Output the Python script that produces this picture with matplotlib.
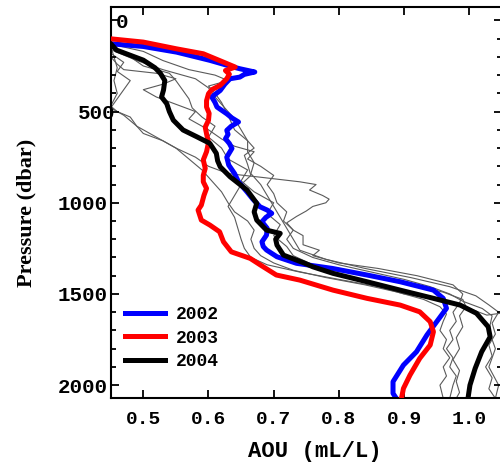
import numpy as np
import matplotlib.pyplot as plt
from matplotlib.ticker import MultipleLocator
from matplotlib.transforms import ScaledTranslation

# AOU profiles (pressure in dbar, AOU in mL/L)
p_2002 = [98, 128, 143, 174, 219, 256, 265, 283, 296, 311, 320, 350, 384, 420, 450, 475, 512,
          535, 557, 580, 603, 625, 649, 675, 702, 750, 793, 840, 885, 940, 980, 1022, 1040,
          1058, 1080, 1104, 1140, 1177, 1214, 1240, 1259, 1296, 1332, 1360, 1396, 1433, 1479,
          1524, 1579, 1652, 1725, 1817, 1890, 1981, 2045, 2072]
v_2002 = [0.44, 0.45, 0.50, 0.551, 0.602, 0.638, 0.648, 0.671, 0.655, 0.648, 0.633, 0.625,
          0.618, 0.605, 0.610, 0.613, 0.628, 0.636, 0.646, 0.635, 0.628, 0.630, 0.626, 0.632,
          0.636, 0.628, 0.631, 0.640, 0.646, 0.659, 0.668, 0.679, 0.690, 0.697, 0.688, 0.682,
          0.690, 0.689, 0.682, 0.684, 0.689, 0.705, 0.735, 0.79, 0.843, 0.894, 0.945, 0.960,
          0.965, 0.950, 0.935, 0.919, 0.899, 0.883, 0.883, 0.888]

p_2003 = [95, 101, 119, 156, 183, 229, 256, 275, 295, 320, 356, 380, 402, 440, 475, 510, 548,
          585, 622, 670, 720, 765, 811, 850, 885, 921, 960, 1013, 1040, 1095, 1122, 1159,
          1214, 1269, 1305, 1342, 1396, 1424, 1479, 1524, 1561, 1598, 1652, 1707, 1780, 1853,
          1945, 2018, 2072]
v_2003 = [0.44, 0.45, 0.50, 0.551, 0.592, 0.623, 0.641, 0.626, 0.632, 0.628, 0.618, 0.605,
          0.600, 0.597, 0.597, 0.601, 0.600, 0.595, 0.597, 0.600, 0.597, 0.592, 0.595, 0.592,
          0.592, 0.597, 0.593, 0.589, 0.584, 0.589, 0.602, 0.617, 0.623, 0.635, 0.664, 0.680,
          0.704, 0.740, 0.791, 0.843, 0.894, 0.924, 0.940, 0.945, 0.940, 0.924, 0.909, 0.899,
          0.896]

p_2004 = [120, 128, 163, 218, 260, 289, 330, 382, 420, 457, 500, 547, 601, 638, 674, 729,
          770, 803, 857, 930, 1003, 1050, 1095, 1150, 1168, 1200, 1232, 1287, 1332, 1351,
          1387, 1433, 1479, 1524, 1561, 1606, 1680, 1735, 1817, 1908, 2000, 2072]
v_2004 = [0.44, 0.45, 0.459, 0.50, 0.518, 0.526, 0.533, 0.531, 0.528, 0.536, 0.540, 0.546,
          0.561, 0.582, 0.602, 0.612, 0.614, 0.618, 0.633, 0.659, 0.674, 0.670, 0.674, 0.689,
          0.710, 0.703, 0.705, 0.715, 0.748, 0.76, 0.791, 0.843, 0.894, 0.945, 0.986, 1.011,
          1.029, 1.032, 1.019, 1.009, 1.001, 0.998]

# other years, thin grey
p_g1 = [140, 200, 260, 330, 400, 470, 500, 530, 580, 620, 660, 700, 750, 800, 840, 860, 885,
        900, 930, 960, 980, 1000, 1020, 1045, 1075, 1110, 1150, 1180, 1230, 1260, 1290, 1330,
        1360, 1400, 1450, 1500, 1550, 1600, 1650, 1700, 1750, 1800, 1850, 1900, 1950, 2000, 2072]
v_g1 = [0.45, 0.455, 0.46, 0.455, 0.46, 0.45, 0.46, 0.48, 0.49, 0.50, 0.53, 0.55, 0.58, 0.60,
        0.63, 0.68, 0.74, 0.765, 0.755, 0.775, 0.785, 0.78, 0.76, 0.75, 0.735, 0.72, 0.73,
        0.745, 0.745, 0.77, 0.76, 0.80, 0.86, 0.92, 0.975, 0.99, 0.985, 0.975, 0.98, 0.97,
        0.975, 0.965, 0.975, 0.97, 0.98, 0.975, 0.97]

p_g2 = [150, 200, 250, 290, 330, 380, 430, 480, 530, 580, 640, 700, 760, 820, 880, 940, 1000,
        1060, 1120, 1180, 1240, 1290, 1340, 1390, 1440, 1490, 1530, 1570, 1620, 1680, 1740,
        1800, 1860, 1920, 1980, 2040, 2072]
v_g2 = [0.45, 0.48, 0.50, 0.54, 0.55, 0.56, 0.57, 0.575, 0.59, 0.61, 0.60, 0.62, 0.63, 0.66,
        0.65, 0.67, 0.70, 0.69, 0.71, 0.70, 0.72, 0.73, 0.76, 0.83, 0.90, 0.96, 0.99, 0.995,
        0.985, 0.99, 0.98, 0.985, 0.975, 0.985, 0.98, 0.985, 0.98]

p_g3 = [160, 220, 270, 320, 370, 420, 480, 540, 600, 660, 720, 780, 840, 900, 960, 1020, 1080,
        1140, 1200, 1260, 1310, 1360, 1410, 1460, 1510, 1560, 1600, 1660, 1720, 1780, 1840,
        1900, 1960, 2020, 2072]
v_g3 = [0.45, 0.49, 0.53, 0.58, 0.60, 0.61, 0.625, 0.64, 0.65, 0.66, 0.66, 0.67, 0.665, 0.68,
        0.69, 0.70, 0.71, 0.72, 0.73, 0.74, 0.78, 0.84, 0.91, 0.97, 1.01, 1.03, 1.045, 1.035,
        1.04, 1.03, 1.035, 1.025, 1.035, 1.03, 1.04]

p_g4 = [130, 170, 220, 270, 300, 330, 360, 400, 450, 520, 600, 660, 700, 740, 790, 850, 900,
        960, 1020, 1080, 1140, 1200, 1250, 1300, 1340, 1380, 1420, 1460, 1500, 1540, 1580, 1616,
        1600]
v_g4 = [0.45, 0.50, 0.53, 0.57, 0.61, 0.63, 0.60, 0.61, 0.62, 0.63, 0.64, 0.66, 0.67, 0.655,
        0.66, 0.665, 0.65, 0.64, 0.63, 0.64, 0.645, 0.65, 0.655, 0.665, 0.69, 0.74, 0.80, 0.86,
        0.90, 0.965, 1.00, 1.027, 1.06]

p_g5 = [180, 230, 280, 330, 380, 430, 480, 520, 580, 640, 700, 760, 820, 880, 940, 1000, 1050,
        1100, 1150, 1200, 1250, 1290, 1330, 1370, 1410, 1450, 1490, 1530, 1570, 1610, 1650,
        1700, 1750, 1800, 1850, 1900, 1950, 2000, 2072]
v_g5 = [0.45, 0.47, 0.46, 0.48, 0.47, 0.46, 0.45, 0.47, 0.49, 0.52, 0.55, 0.57, 0.59, 0.605,
        0.62, 0.63, 0.64, 0.66, 0.67, 0.665, 0.67, 0.68, 0.70, 0.73, 0.78, 0.84, 0.89, 0.93,
        0.955, 0.965, 0.96, 0.955, 0.965, 0.96, 0.97, 0.96, 0.965, 0.955, 0.96]

p_g6 = [200, 240, 270, 290, 320, 350, 380, 420, 460, 500, 540, 600, 650, 690, 720, 760, 800,
        850, 900, 950, 1000, 1050, 1100, 1150, 1200, 1250, 1300, 1340, 1380, 1420, 1460, 1500,
        1540, 1580, 1620, 1700, 1800, 1900, 2000, 2072]
v_g6 = [0.45, 0.46, 0.47, 0.52, 0.55, 0.53, 0.50, 0.52, 0.55, 0.58, 0.57, 0.60, 0.62, 0.64,
        0.67, 0.66, 0.68, 0.70, 0.69, 0.70, 0.705, 0.72, 0.715, 0.73, 0.72, 0.73, 0.76, 0.80,
        0.85, 0.90, 0.94, 0.97, 0.99, 1.02, 1.035, 1.03, 1.04, 1.03, 1.045, 1.04]

grey_p = [p_g1, p_g2, p_g3, p_g4, p_g5, p_g6]
grey_v = [v_g1, v_g2, v_g3, v_g4, v_g5, v_g6]

xticks = [0.5, 0.6, 0.7, 0.8, 0.9, 1.0]
xticklabels = ['0.5', '0.6', '0.7', '0.8', '0.9', '1.0']
yticks = [0, 500, 1000, 1500, 2000]

mono = 'Liberation Mono'

fig = plt.figure(figsize=(5, 4.66), dpi=100)
ax = fig.add_axes([0.2214, 0.1453, 0.7824, 0.8403])

for pp, vv in zip(grey_p, grey_v):
    ax.plot(vv, pp, color='#5a5a5a', lw=0.8, zorder=1)

ax.plot(v_2002, p_2002, color='#0000ff', lw=3.6, label='2002', zorder=2)
ax.plot(v_2003, p_2003, color='#ff0000', lw=3.6, label='2003', zorder=3)
ax.plot(v_2004, p_2004, color='black', lw=3.6, label='2004', zorder=4)

ax.set_xlim(0.45, 1.05)
ax.set_ylim(2072, -75)

ax.set_xticks(xticks)
ax.set_xticklabels(xticklabels, fontfamily=mono, fontweight='bold', fontsize=14)
ax.set_yticks(yticks)
ax.set_yticklabels([str(t) for t in yticks], fontfamily=mono, fontweight='bold', fontsize=15)
ax.yaxis.set_minor_locator(MultipleLocator(100))

ax.tick_params(which='both', direction='in', top=True, right=True, width=1.3)
ax.tick_params(which='major', length=6)
ax.tick_params(which='minor', length=3.5)
ax.tick_params(axis='x', pad=9)
ax.tick_params(axis='y', pad=2)

# the top two pressure labels sit further right
for lab, dx in zip(ax.get_yticklabels()[:2], [20, 7]):
    lab.set_transform(lab.get_transform() + ScaledTranslation(dx / 100, 0, fig.dpi_scale_trans))

for s in ax.spines.values():
    s.set_linewidth(1.5)

ax.set_xlabel('AOU (mL/L)', fontfamily=mono, fontweight='bold', fontsize=16)
ax.xaxis.set_label_coords(0.522, -0.11)
ax.set_ylabel('Pressure (dbar)', fontfamily='Liberation Serif', fontweight='bold', fontsize=16)
ax.yaxis.set_label_coords(-0.19, 0.473)

leg = ax.legend(loc='upper left', bbox_to_anchor=(0.037, 0.235), frameon=False,
                handlelength=2.2, handletextpad=0.6, labelspacing=0.35, borderpad=0,
                borderaxespad=0, prop={'family': mono, 'weight': 'bold', 'size': 13})

fig.savefig('out.png', dpi=100)
